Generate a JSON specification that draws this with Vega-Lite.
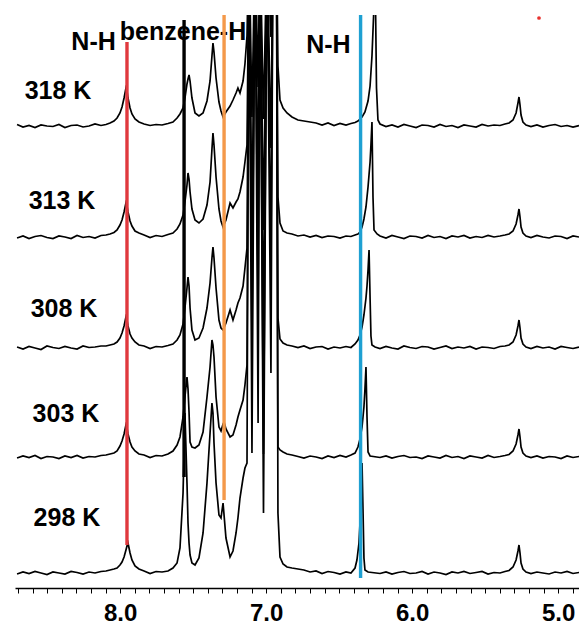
{
"$schema":"https://vega.github.io/schema/vega-lite/v6.json",
"width":564,"height":573,"autosize":{"type":"none"},
"padding":{"left":15,"right":0,"top":15,"bottom":37},
"background":"white",
"config":{"view":{"stroke":null}},
"datasets":{
"s318":[{"x":8.706,"y":92.7},{"x":8.665,"y":92.2},{"x":8.624,"y":92.5},{"x":8.583,"y":92.1},{"x":8.542,"y":92.6},{"x":8.501,"y":92.4},{"x":8.46,"y":92.3},{"x":8.419,"y":92.7},{"x":8.378,"y":92.1},{"x":8.336,"y":92.5},{"x":8.295,"y":92.6},{"x":8.254,"y":92.2},{"x":8.213,"y":92.4},{"x":8.172,"y":92.8},{"x":8.131,"y":92.5},{"x":8.097,"y":92.7},{"x":8.069,"y":93.0},{"x":8.042,"y":93.4},{"x":8.021,"y":94.0},{"x":8.001,"y":95.0},{"x":7.987,"y":96.2},{"x":7.973,"y":98.0},{"x":7.96,"y":100.0},{"x":7.953,"y":99.4},{"x":7.946,"y":98.0},{"x":7.932,"y":96.0},{"x":7.919,"y":94.8},{"x":7.898,"y":93.8},{"x":7.871,"y":93.2},{"x":7.836,"y":92.8},{"x":7.795,"y":92.5},{"x":7.754,"y":92.7},{"x":7.713,"y":92.6},{"x":7.672,"y":92.9},{"x":7.638,"y":93.2},{"x":7.61,"y":94.0},{"x":7.59,"y":94.8},{"x":7.569,"y":96.0},{"x":7.556,"y":98.0},{"x":7.542,"y":100.8},{"x":7.535,"y":101.8},{"x":7.528,"y":102.6},{"x":7.521,"y":101.4},{"x":7.508,"y":98.0},{"x":7.487,"y":95.0},{"x":7.46,"y":94.4},{"x":7.432,"y":95.0},{"x":7.405,"y":97.4},{"x":7.384,"y":101.4},{"x":7.371,"y":106.4},{"x":7.364,"y":109.0},{"x":7.357,"y":107.2},{"x":7.343,"y":102.0},{"x":7.323,"y":97.2},{"x":7.309,"y":95.4},{"x":7.295,"y":94.2},{"x":7.275,"y":95.2},{"x":7.247,"y":96.4},{"x":7.227,"y":97.6},{"x":7.206,"y":99.0},{"x":7.193,"y":100.0},{"x":7.179,"y":99.0},{"x":7.158,"y":101.4},{"x":7.145,"y":104.8},{"x":7.131,"y":110.4},{"x":7.117,"y":130},{"x":7.097,"y":116.4},{"x":7.076,"y":130},{"x":7.055,"y":122},{"x":7.042,"y":130},{"x":7.018,"y":93.8},{"x":6.994,"y":130},{"x":6.967,"y":132},{"x":6.953,"y":130},{"x":6.929,"y":130},{"x":6.919,"y":104.4},{"x":6.905,"y":97.6},{"x":6.884,"y":96.0},{"x":6.857,"y":95.0},{"x":6.823,"y":94.2},{"x":6.782,"y":93.6},{"x":6.741,"y":93.4},{"x":6.699,"y":93.2},{"x":6.658,"y":93.0},{"x":6.617,"y":92.6},{"x":6.576,"y":93.0},{"x":6.535,"y":92.5},{"x":6.494,"y":92.9},{"x":6.453,"y":92.6},{"x":6.419,"y":92.9},{"x":6.391,"y":93.1},{"x":6.371,"y":93.4},{"x":6.357,"y":93.8},{"x":6.343,"y":94.2},{"x":6.323,"y":95.2},{"x":6.302,"y":97.4},{"x":6.288,"y":100.4},{"x":6.275,"y":106.4},{"x":6.264,"y":114.4},{"x":6.254,"y":125},{"x":6.244,"y":100},{"x":6.234,"y":93.6},{"x":6.22,"y":92.8},{"x":6.179,"y":92.3},{"x":6.138,"y":92.6},{"x":6.097,"y":92.2},{"x":6.056,"y":92.7},{"x":6.015,"y":92.4},{"x":5.973,"y":92.1},{"x":5.932,"y":92.6},{"x":5.891,"y":92.5},{"x":5.85,"y":92.2},{"x":5.809,"y":92.7},{"x":5.768,"y":92.3},{"x":5.727,"y":92.5},{"x":5.686,"y":92.1},{"x":5.645,"y":92.6},{"x":5.604,"y":92.4},{"x":5.562,"y":92.2},{"x":5.521,"y":92.7},{"x":5.48,"y":92.4},{"x":5.439,"y":92.6},{"x":5.398,"y":92.5},{"x":5.364,"y":92.8},{"x":5.336,"y":93.0},{"x":5.309,"y":93.6},{"x":5.288,"y":95.0},{"x":5.275,"y":97.0},{"x":5.268,"y":98.2},{"x":5.261,"y":96.6},{"x":5.254,"y":94.6},{"x":5.241,"y":93.2},{"x":5.22,"y":92.6},{"x":5.186,"y":92.3},{"x":5.145,"y":92.6},{"x":5.104,"y":92.2},{"x":5.062,"y":92.5},{"x":5.021,"y":92.7},{"x":4.98,"y":92.3},{"x":4.939,"y":92.5},{"x":4.898,"y":92.2},{"x":4.857,"y":92.5}],
"s313":[{"x":8.706,"y":70.0},{"x":8.665,"y":70.4},{"x":8.624,"y":69.9},{"x":8.583,"y":70.3},{"x":8.542,"y":70.5},{"x":8.501,"y":70.1},{"x":8.46,"y":69.9},{"x":8.419,"y":70.4},{"x":8.378,"y":70.2},{"x":8.336,"y":69.9},{"x":8.295,"y":70.5},{"x":8.254,"y":70.1},{"x":8.213,"y":70.3},{"x":8.172,"y":70.0},{"x":8.131,"y":70.5},{"x":8.097,"y":70.6},{"x":8.069,"y":70.8},{"x":8.042,"y":71.1},{"x":8.021,"y":71.6},{"x":8.001,"y":72.6},{"x":7.987,"y":73.6},{"x":7.973,"y":75.2},{"x":7.96,"y":77.0},{"x":7.953,"y":76.4},{"x":7.946,"y":75.2},{"x":7.932,"y":73.4},{"x":7.919,"y":72.4},{"x":7.898,"y":71.4},{"x":7.871,"y":71.0},{"x":7.836,"y":70.6},{"x":7.795,"y":70.1},{"x":7.754,"y":70.5},{"x":7.713,"y":70.3},{"x":7.672,"y":70.7},{"x":7.638,"y":71.0},{"x":7.61,"y":71.8},{"x":7.59,"y":72.8},{"x":7.569,"y":74.6},{"x":7.556,"y":77.2},{"x":7.542,"y":80.6},{"x":7.535,"y":83.0},{"x":7.528,"y":81.8},{"x":7.521,"y":79.2},{"x":7.508,"y":75.8},{"x":7.487,"y":73.6},{"x":7.46,"y":73.0},{"x":7.432,"y":73.8},{"x":7.405,"y":76.6},{"x":7.384,"y":81.2},{"x":7.371,"y":87.8},{"x":7.364,"y":91.0},{"x":7.357,"y":88.6},{"x":7.343,"y":82.2},{"x":7.323,"y":75.8},{"x":7.309,"y":73.4},{"x":7.295,"y":72.2},{"x":7.275,"y":73.6},{"x":7.247,"y":77.0},{"x":7.227,"y":76.0},{"x":7.206,"y":77.2},{"x":7.193,"y":77.8},{"x":7.179,"y":79.2},{"x":7.158,"y":82.2},{"x":7.145,"y":85.2},{"x":7.131,"y":88.6},{"x":7.117,"y":130},{"x":7.097,"y":94.2},{"x":7.076,"y":130},{"x":7.055,"y":100.2},{"x":7.042,"y":130},{"x":7.018,"y":71.6},{"x":6.994,"y":130},{"x":6.967,"y":110.2},{"x":6.953,"y":130},{"x":6.929,"y":130},{"x":6.919,"y":78.2},{"x":6.905,"y":73.0},{"x":6.884,"y":71.4},{"x":6.857,"y":71.0},{"x":6.823,"y":70.8},{"x":6.782,"y":70.4},{"x":6.741,"y":70.6},{"x":6.699,"y":70.2},{"x":6.658,"y":70.5},{"x":6.617,"y":70.1},{"x":6.576,"y":70.4},{"x":6.535,"y":70.3},{"x":6.494,"y":70.0},{"x":6.453,"y":70.4},{"x":6.419,"y":70.3},{"x":6.391,"y":70.6},{"x":6.371,"y":70.8},{"x":6.357,"y":71.2},{"x":6.343,"y":72.2},{"x":6.33,"y":73.8},{"x":6.316,"y":76.2},{"x":6.302,"y":80.2},{"x":6.288,"y":85.2},{"x":6.282,"y":88.6},{"x":6.275,"y":93.2},{"x":6.268,"y":78.2},{"x":6.261,"y":71.6},{"x":6.24,"y":70.8},{"x":6.22,"y":70.4},{"x":6.179,"y":70.0},{"x":6.138,"y":70.5},{"x":6.097,"y":70.2},{"x":6.056,"y":69.9},{"x":6.015,"y":70.4},{"x":5.973,"y":70.3},{"x":5.932,"y":70.0},{"x":5.891,"y":70.5},{"x":5.85,"y":70.1},{"x":5.809,"y":70.3},{"x":5.768,"y":69.9},{"x":5.727,"y":70.4},{"x":5.686,"y":70.2},{"x":5.645,"y":70.5},{"x":5.604,"y":70.0},{"x":5.562,"y":70.3},{"x":5.521,"y":70.1},{"x":5.48,"y":70.5},{"x":5.439,"y":70.2},{"x":5.398,"y":70.4},{"x":5.364,"y":70.6},{"x":5.336,"y":70.8},{"x":5.309,"y":71.4},{"x":5.288,"y":72.8},{"x":5.275,"y":74.6},{"x":5.268,"y":75.8},{"x":5.261,"y":74.2},{"x":5.254,"y":72.2},{"x":5.241,"y":71.0},{"x":5.22,"y":70.4},{"x":5.186,"y":70.1},{"x":5.145,"y":70.5},{"x":5.104,"y":70.2},{"x":5.062,"y":70.0},{"x":5.021,"y":70.4},{"x":4.98,"y":70.3},{"x":4.939,"y":69.9},{"x":4.898,"y":70.4},{"x":4.857,"y":70.2}],
"s308":[{"x":8.706,"y":48.2},{"x":8.665,"y":47.8},{"x":8.624,"y":48.3},{"x":8.583,"y":48.0},{"x":8.542,"y":47.7},{"x":8.501,"y":48.4},{"x":8.46,"y":48.1},{"x":8.419,"y":47.9},{"x":8.378,"y":48.3},{"x":8.336,"y":48.0},{"x":8.295,"y":47.8},{"x":8.254,"y":48.4},{"x":8.213,"y":48.1},{"x":8.172,"y":48.2},{"x":8.131,"y":48.4},{"x":8.097,"y":48.4},{"x":8.069,"y":48.6},{"x":8.042,"y":48.8},{"x":8.021,"y":49.2},{"x":8.001,"y":50.0},{"x":7.987,"y":51.0},{"x":7.973,"y":52.4},{"x":7.96,"y":54.2},{"x":7.953,"y":53.6},{"x":7.946,"y":52.4},{"x":7.932,"y":50.8},{"x":7.919,"y":50.0},{"x":7.898,"y":49.2},{"x":7.871,"y":48.6},{"x":7.836,"y":48.4},{"x":7.795,"y":47.9},{"x":7.754,"y":48.3},{"x":7.713,"y":48.2},{"x":7.672,"y":48.5},{"x":7.638,"y":48.8},{"x":7.61,"y":49.6},{"x":7.59,"y":50.6},{"x":7.569,"y":52.8},{"x":7.556,"y":56.0},{"x":7.542,"y":60.0},{"x":7.535,"y":62.2},{"x":7.528,"y":60.4},{"x":7.521,"y":56.0},{"x":7.508,"y":51.6},{"x":7.487,"y":49.6},{"x":7.46,"y":50.0},{"x":7.432,"y":52.0},{"x":7.405,"y":56.0},{"x":7.384,"y":61.0},{"x":7.371,"y":66.0},{"x":7.364,"y":68.2},{"x":7.357,"y":66.0},{"x":7.343,"y":60.0},{"x":7.323,"y":53.6},{"x":7.309,"y":52.0},{"x":7.295,"y":51.6},{"x":7.275,"y":53.0},{"x":7.247,"y":55.6},{"x":7.227,"y":53.6},{"x":7.206,"y":55.6},{"x":7.193,"y":57.0},{"x":7.179,"y":58.0},{"x":7.158,"y":60.4},{"x":7.145,"y":64.0},{"x":7.131,"y":68.0},{"x":7.117,"y":130},{"x":7.097,"y":72.0},{"x":7.076,"y":130},{"x":7.055,"y":78.0},{"x":7.042,"y":130},{"x":7.018,"y":49.6},{"x":6.994,"y":130},{"x":6.967,"y":88.0},{"x":6.953,"y":130},{"x":6.929,"y":130},{"x":6.919,"y":54.0},{"x":6.905,"y":49.8},{"x":6.884,"y":49.0},{"x":6.857,"y":48.6},{"x":6.823,"y":48.4},{"x":6.782,"y":48.1},{"x":6.741,"y":48.4},{"x":6.699,"y":47.9},{"x":6.658,"y":48.2},{"x":6.617,"y":48.3},{"x":6.576,"y":47.8},{"x":6.535,"y":48.2},{"x":6.494,"y":48.0},{"x":6.453,"y":48.3},{"x":6.419,"y":48.1},{"x":6.391,"y":48.8},{"x":6.371,"y":49.6},{"x":6.357,"y":50.6},{"x":6.343,"y":52.2},{"x":6.33,"y":54.6},{"x":6.316,"y":58.0},{"x":6.309,"y":60.4},{"x":6.302,"y":63.6},{"x":6.295,"y":67.6},{"x":6.288,"y":58.0},{"x":6.282,"y":50.4},{"x":6.275,"y":48.6},{"x":6.254,"y":48.2},{"x":6.22,"y":47.9},{"x":6.179,"y":48.3},{"x":6.138,"y":48.0},{"x":6.097,"y":47.8},{"x":6.056,"y":48.4},{"x":6.015,"y":48.1},{"x":5.973,"y":47.9},{"x":5.932,"y":48.3},{"x":5.891,"y":48.2},{"x":5.85,"y":47.8},{"x":5.809,"y":48.1},{"x":5.768,"y":48.4},{"x":5.727,"y":47.9},{"x":5.686,"y":48.2},{"x":5.645,"y":48.0},{"x":5.604,"y":48.3},{"x":5.562,"y":47.8},{"x":5.521,"y":48.2},{"x":5.48,"y":48.1},{"x":5.439,"y":47.9},{"x":5.398,"y":48.3},{"x":5.364,"y":48.4},{"x":5.336,"y":48.6},{"x":5.309,"y":49.2},{"x":5.288,"y":50.6},{"x":5.275,"y":52.4},{"x":5.268,"y":53.6},{"x":5.261,"y":52.0},{"x":5.254,"y":50.0},{"x":5.241,"y":48.8},{"x":5.22,"y":48.2},{"x":5.186,"y":47.9},{"x":5.145,"y":48.3},{"x":5.104,"y":48.0},{"x":5.062,"y":48.2},{"x":5.021,"y":47.8},{"x":4.98,"y":48.3},{"x":4.939,"y":48.1},{"x":4.898,"y":47.9},{"x":4.857,"y":48.2}],
"s303":[{"x":8.706,"y":26.0},{"x":8.665,"y":26.4},{"x":8.624,"y":26.1},{"x":8.583,"y":26.5},{"x":8.542,"y":25.9},{"x":8.501,"y":26.3},{"x":8.46,"y":26.2},{"x":8.419,"y":25.9},{"x":8.378,"y":26.4},{"x":8.336,"y":26.1},{"x":8.295,"y":26.5},{"x":8.254,"y":26.0},{"x":8.213,"y":26.3},{"x":8.172,"y":26.2},{"x":8.131,"y":26.5},{"x":8.097,"y":26.6},{"x":8.069,"y":26.8},{"x":8.042,"y":27.0},{"x":8.021,"y":27.4},{"x":8.001,"y":28.4},{"x":7.987,"y":29.4},{"x":7.973,"y":30.8},{"x":7.96,"y":32.6},{"x":7.953,"y":32.0},{"x":7.946,"y":30.8},{"x":7.932,"y":29.2},{"x":7.919,"y":28.2},{"x":7.898,"y":27.4},{"x":7.871,"y":26.8},{"x":7.836,"y":26.6},{"x":7.795,"y":26.1},{"x":7.754,"y":26.5},{"x":7.713,"y":26.4},{"x":7.672,"y":26.8},{"x":7.638,"y":27.4},{"x":7.61,"y":28.6},{"x":7.59,"y":30.2},{"x":7.569,"y":34.2},{"x":7.556,"y":38.2},{"x":7.542,"y":42.2},{"x":7.535,"y":39.8},{"x":7.528,"y":35.2},{"x":7.521,"y":29.2},{"x":7.508,"y":28.2},{"x":7.487,"y":28.0},{"x":7.46,"y":28.6},{"x":7.432,"y":31.2},{"x":7.405,"y":38.2},{"x":7.384,"y":44.2},{"x":7.371,"y":49.6},{"x":7.364,"y":48.6},{"x":7.357,"y":46.2},{"x":7.343,"y":38.2},{"x":7.323,"y":32.2},{"x":7.309,"y":31.4},{"x":7.295,"y":32.8},{"x":7.288,"y":33.2},{"x":7.275,"y":31.8},{"x":7.247,"y":30.2},{"x":7.227,"y":30.6},{"x":7.206,"y":32.6},{"x":7.193,"y":34.2},{"x":7.179,"y":35.6},{"x":7.158,"y":37.6},{"x":7.145,"y":40.6},{"x":7.131,"y":44.6},{"x":7.117,"y":130},{"x":7.097,"y":50.2},{"x":7.076,"y":130},{"x":7.055,"y":56.2},{"x":7.042,"y":130},{"x":7.018,"y":26.8},{"x":6.994,"y":130},{"x":6.967,"y":66.2},{"x":6.953,"y":130},{"x":6.929,"y":130},{"x":6.919,"y":28.2},{"x":6.905,"y":27.6},{"x":6.884,"y":27.2},{"x":6.857,"y":26.8},{"x":6.823,"y":26.6},{"x":6.782,"y":26.3},{"x":6.741,"y":26.0},{"x":6.699,"y":26.4},{"x":6.658,"y":26.2},{"x":6.617,"y":25.9},{"x":6.576,"y":26.4},{"x":6.535,"y":26.1},{"x":6.494,"y":26.5},{"x":6.453,"y":26.2},{"x":6.419,"y":26.6},{"x":6.391,"y":27.0},{"x":6.371,"y":28.2},{"x":6.357,"y":29.8},{"x":6.343,"y":32.2},{"x":6.33,"y":36.2},{"x":6.323,"y":39.8},{"x":6.316,"y":44.2},{"x":6.309,"y":34.2},{"x":6.302,"y":27.2},{"x":6.288,"y":26.4},{"x":6.22,"y":26.1},{"x":6.179,"y":26.4},{"x":6.138,"y":26.0},{"x":6.097,"y":26.3},{"x":6.056,"y":26.5},{"x":6.015,"y":26.1},{"x":5.973,"y":26.2},{"x":5.932,"y":25.9},{"x":5.891,"y":26.4},{"x":5.85,"y":26.2},{"x":5.809,"y":26.0},{"x":5.768,"y":26.5},{"x":5.727,"y":26.1},{"x":5.686,"y":26.3},{"x":5.645,"y":25.9},{"x":5.604,"y":26.4},{"x":5.562,"y":26.2},{"x":5.521,"y":26.0},{"x":5.48,"y":26.5},{"x":5.439,"y":26.1},{"x":5.398,"y":26.3},{"x":5.364,"y":26.5},{"x":5.336,"y":26.7},{"x":5.309,"y":27.4},{"x":5.288,"y":28.8},{"x":5.275,"y":30.6},{"x":5.268,"y":31.8},{"x":5.261,"y":30.2},{"x":5.254,"y":28.2},{"x":5.241,"y":27.0},{"x":5.22,"y":26.4},{"x":5.186,"y":26.1},{"x":5.145,"y":26.4},{"x":5.104,"y":26.0},{"x":5.062,"y":26.3},{"x":5.021,"y":26.2},{"x":4.98,"y":25.9},{"x":4.939,"y":26.4},{"x":4.898,"y":26.1},{"x":4.857,"y":26.3}],
"s298":[{"x":8.706,"y":2.8},{"x":8.665,"y":3.2},{"x":8.624,"y":2.9},{"x":8.583,"y":3.3},{"x":8.542,"y":3.0},{"x":8.501,"y":2.7},{"x":8.46,"y":3.2},{"x":8.419,"y":3.0},{"x":8.378,"y":2.8},{"x":8.336,"y":3.3},{"x":8.295,"y":3.1},{"x":8.254,"y":2.8},{"x":8.213,"y":3.2},{"x":8.172,"y":3.0},{"x":8.131,"y":3.3},{"x":8.097,"y":3.4},{"x":8.069,"y":3.6},{"x":8.042,"y":3.8},{"x":8.021,"y":4.0},{"x":8.001,"y":4.6},{"x":7.987,"y":5.2},{"x":7.973,"y":6.2},{"x":7.96,"y":7.6},{"x":7.953,"y":8.4},{"x":7.946,"y":9.0},{"x":7.932,"y":7.0},{"x":7.919,"y":5.6},{"x":7.898,"y":4.4},{"x":7.871,"y":3.8},{"x":7.836,"y":3.4},{"x":7.795,"y":2.9},{"x":7.754,"y":3.3},{"x":7.713,"y":3.2},{"x":7.672,"y":3.4},{"x":7.638,"y":4.0},{"x":7.61,"y":5.0},{"x":7.59,"y":8.0},{"x":7.569,"y":19.0},{"x":7.556,"y":35.0},{"x":7.542,"y":21.0},{"x":7.535,"y":13.0},{"x":7.528,"y":9.0},{"x":7.521,"y":6.6},{"x":7.508,"y":5.0},{"x":7.487,"y":4.6},{"x":7.46,"y":6.0},{"x":7.432,"y":11.0},{"x":7.405,"y":21.0},{"x":7.384,"y":31.0},{"x":7.371,"y":37.0},{"x":7.364,"y":35.0},{"x":7.357,"y":29.0},{"x":7.343,"y":21.0},{"x":7.323,"y":14.6},{"x":7.309,"y":14.0},{"x":7.295,"y":17.0},{"x":7.275,"y":10.0},{"x":7.247,"y":6.2},{"x":7.227,"y":7.4},{"x":7.206,"y":11.0},{"x":7.193,"y":14.0},{"x":7.179,"y":18.0},{"x":7.158,"y":22.0},{"x":7.145,"y":24.0},{"x":7.131,"y":25.0},{"x":7.117,"y":130},{"x":7.097,"y":27.0},{"x":7.076,"y":130},{"x":7.055,"y":33.0},{"x":7.042,"y":130},{"x":7.018,"y":15.0},{"x":6.994,"y":130},{"x":6.967,"y":43.0},{"x":6.953,"y":130},{"x":6.929,"y":130},{"x":6.919,"y":15.0},{"x":6.905,"y":6.2},{"x":6.884,"y":4.8},{"x":6.857,"y":4.2},{"x":6.823,"y":4.0},{"x":6.782,"y":3.8},{"x":6.741,"y":3.6},{"x":6.699,"y":3.2},{"x":6.658,"y":3.4},{"x":6.617,"y":2.9},{"x":6.576,"y":3.3},{"x":6.535,"y":3.1},{"x":6.494,"y":2.8},{"x":6.453,"y":3.2},{"x":6.419,"y":3.0},{"x":6.391,"y":4.0},{"x":6.378,"y":5.6},{"x":6.364,"y":9.0},{"x":6.357,"y":13.0},{"x":6.35,"y":19.0},{"x":6.343,"y":25.0},{"x":6.336,"y":15.0},{"x":6.33,"y":6.0},{"x":6.323,"y":3.6},{"x":6.302,"y":3.2},{"x":6.22,"y":2.9},{"x":6.179,"y":3.2},{"x":6.138,"y":2.8},{"x":6.097,"y":3.1},{"x":6.056,"y":3.3},{"x":6.015,"y":2.9},{"x":5.973,"y":3.0},{"x":5.932,"y":3.3},{"x":5.891,"y":2.8},{"x":5.85,"y":3.2},{"x":5.809,"y":3.0},{"x":5.768,"y":2.7},{"x":5.727,"y":3.2},{"x":5.686,"y":3.0},{"x":5.645,"y":3.3},{"x":5.604,"y":2.9},{"x":5.562,"y":3.1},{"x":5.521,"y":3.3},{"x":5.48,"y":2.8},{"x":5.439,"y":3.1},{"x":5.398,"y":3.0},{"x":5.364,"y":3.3},{"x":5.336,"y":3.5},{"x":5.309,"y":4.2},{"x":5.288,"y":5.6},{"x":5.275,"y":7.4},{"x":5.268,"y":8.6},{"x":5.261,"y":7.0},{"x":5.254,"y":5.0},{"x":5.241,"y":3.8},{"x":5.22,"y":3.2},{"x":5.186,"y":2.9},{"x":5.145,"y":3.2},{"x":5.104,"y":3.0},{"x":5.062,"y":2.8},{"x":5.021,"y":3.2},{"x":4.98,"y":3.0},{"x":4.939,"y":3.3},{"x":4.898,"y":2.9},{"x":4.857,"y":3.1}],
"temps":[{"x":8.425,"y":97.8,"s":"318 K"},{"x":8.398,"y":75.9,"s":"313 K"},{"x":8.384,"y":54.3,"s":"308 K"},{"x":8.371,"y":33.3,"s":"303 K"},{"x":8.364,"y":12.5,"s":"298 K"}],
"notes":[{"x":8.182,"y":107.6,"s":"N-H"},{"x":7.569,"y":109.6,"s":"benzene-H"},{"x":6.573,"y":107.0,"s":"N-H"}],
"marks":[{"x":7.953,"y":109.2,"y2":8.6,"g":"N-H 7.95"},{"x":7.562,"y":113.6,"y2":22.2,"g":"benzene-H 7.56"},{"x":7.288,"y":114.6,"y2":17.6,"g":"benzene-H 7.29"},{"x":6.353,"y":114.6,"y2":2.0,"g":"N-H 6.35"}],
"dot":[{"x":5.131,"y":114.0}]
},
"encoding":{
"x":{"field":"x","type":"quantitative","scale":{"domain":[8.72,4.857],"nice":false,"zero":false},
"axis":{"values":[8.7,8.6,8.5,8.4,8.3,8.2,8.1,8,7.9,7.8,7.7,7.6,7.5,7.4,7.3,7.2,7.1,7,6.9,6.8,6.7,6.6,6.5,6.4,6.3,6.2,6.1,6,5.9,5.8,5.7,5.6,5.5,5.4,5.3,5.2,5.1,5,4.9],
"labelExpr":"abs(datum.value-round(datum.value))<0.01 ? format(datum.value,'.1f') : ''",
"domainColor":"#000000","domainWidth":1.5,"tickColor":"#000000","tickSize":5,"tickWidth":1,
"labelFont":"Liberation Sans","labelFontSize":24,"labelFontWeight":"bold","labelColor":"#000000","labelPadding":8,
"labelOverlap":false,"labelFlush":false,"labelBound":false,"grid":false,"title":null}},
"y":{"field":"y","type":"quantitative","scale":{"domain":[0,114.6],"nice":false,"zero":false},"axis":null}
},
"layer":[
{"data":{"name":"s318"},"mark":{"type":"line","color":"#000000","strokeWidth":1.7,"clip":true}},
{"data":{"name":"s313"},"mark":{"type":"line","color":"#000000","strokeWidth":1.7,"clip":true}},
{"data":{"name":"s308"},"mark":{"type":"line","color":"#000000","strokeWidth":1.7,"clip":true}},
{"data":{"name":"s303"},"mark":{"type":"line","color":"#000000","strokeWidth":1.7,"clip":true}},
{"data":{"name":"s298"},"mark":{"type":"line","color":"#000000","strokeWidth":1.7,"clip":true}},
{"data":{"name":"temps"},"mark":{"type":"text","font":"Liberation Sans","fontSize":25,"fontWeight":"bold","color":"#000000","align":"center","baseline":"alphabetic"},"encoding":{"text":{"field":"s"}}},
{"data":{"name":"notes"},"mark":{"type":"text","font":"Liberation Sans","fontSize":25,"fontWeight":"bold","color":"#000000","align":"center","baseline":"alphabetic"},"encoding":{"text":{"field":"s"}}},
{"data":{"name":"marks"},"mark":{"type":"rule","strokeWidth":3.4},"encoding":{"y2":{"field":"y2"},"color":{"field":"g","type":"nominal","scale":{"domain":["N-H 7.95","benzene-H 7.56","benzene-H 7.29","N-H 6.35"],"range":["#e0393e","#000000","#f4994a","#1ea0d2"]},"legend":null}}},
{"data":{"name":"dot"},"mark":{"type":"point","filled":true,"color":"#e8322e","size":14,"opacity":1}}
]
}
